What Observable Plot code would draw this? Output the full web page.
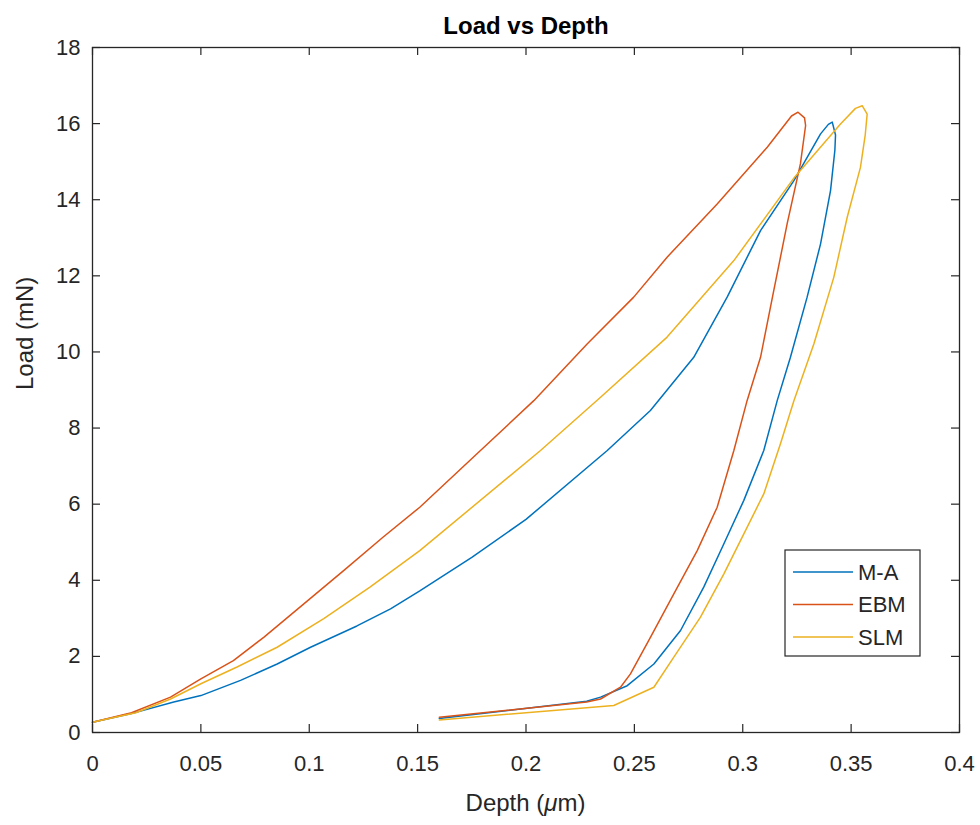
<!DOCTYPE html>
<html><head><meta charset="utf-8">
<script src="https://cdn.jsdelivr.net/npm/d3@7"></script>
<script src="https://cdn.jsdelivr.net/npm/@observablehq/plot@0.6"></script>
<style>
body{margin:0;background:#fff}
svg{font-family:"Liberation Sans",Arial,Helvetica,sans-serif}
</style>
</head><body><div id="chart"></div>
<script>
const seriesNames = ["M-A", "EBM", "SLM"];
const seriesColors = ["#0072BD", "#D95319", "#EDB120"];

const maDepth = [0, 0.0175, 0.0375, 0.05, 0.0683, 0.0852, 0.1006, 0.122, 0.1375, 0.151, 0.175, 0.2, 0.2375, 0.2574, 0.2774, 0.2928, 0.3082, 0.3236, 0.3359, 0.3395, 0.3413, 0.3428, 0.3425, 0.3405, 0.3359, 0.3297, 0.322, 0.3159, 0.3097, 0.3005, 0.2913, 0.282, 0.2713, 0.259, 0.2467, 0.2344, 0.228, 0.16];
const maLoad  = [0.27, 0.49, 0.80, 0.97, 1.37, 1.80, 2.24, 2.80, 3.25, 3.72, 4.6, 5.6, 7.41, 8.46, 9.86, 11.44, 13.19, 14.50, 15.73, 15.98, 16.04, 15.70, 15.3, 14.24, 12.84, 11.44, 9.86, 8.72, 7.41, 6.10, 4.96, 3.82, 2.68, 1.80, 1.23, 0.93, 0.82, 0.37];

const ebmDepth = [0, 0.018, 0.036, 0.05, 0.065, 0.079, 0.0975, 0.116, 0.134, 0.151, 0.179, 0.2036, 0.2282, 0.2497, 0.2651, 0.2882, 0.3113, 0.3225, 0.3255, 0.3285, 0.329, 0.3266, 0.3205, 0.3143, 0.3082, 0.302, 0.2959, 0.2882, 0.279, 0.2682, 0.2574, 0.2482, 0.2436, 0.2344, 0.228, 0.16];
const ebmLoad  = [0.27, 0.52, 0.93, 1.41, 1.89, 2.50, 3.38, 4.26, 5.13, 5.92, 7.41, 8.72, 10.21, 11.44, 12.49, 13.89, 15.38, 16.20, 16.30, 16.15, 15.95, 14.94, 13.37, 11.61, 9.86, 8.72, 7.41, 5.92, 4.78, 3.64, 2.50, 1.54, 1.19, 0.88, 0.80, 0.40];

const slmDepth = [0, 0.02, 0.036, 0.05, 0.0667, 0.0852, 0.1067, 0.128, 0.151, 0.2067, 0.2344, 0.2651, 0.2959, 0.324, 0.3451, 0.352, 0.3551, 0.3574, 0.3565, 0.3543, 0.3482, 0.342, 0.3328, 0.3236, 0.3174, 0.3097, 0.3005, 0.2913, 0.2805, 0.2682, 0.259, 0.2405, 0.16];
const slmLoad  = [0.27, 0.52, 0.88, 1.28, 1.72, 2.24, 2.99, 3.82, 4.78, 7.41, 8.81, 10.39, 12.4, 14.6, 15.99, 16.40, 16.47, 16.25, 15.7, 14.85, 13.54, 11.96, 10.21, 8.72, 7.59, 6.27, 5.22, 4.17, 3.03, 1.98, 1.19, 0.71, 0.33];

const xTicks = [0, 0.05, 0.1, 0.15, 0.2, 0.25, 0.3, 0.35, 0.4];
const xTickLabels = ["0", "0.05", "0.1", "0.15", "0.2", "0.25", "0.3", "0.35", "0.4"];
const yTicks = [0, 2, 4, 6, 8, 10, 12, 14, 16, 18];
const yTickLabels = ["0", "2", "4", "6", "8", "10", "12", "14", "16", "18"];

const titleText = "Load vs Depth";
const yLabelText = "Load (mN)";

const rows = [];
[[maDepth, maLoad], [ebmDepth, ebmLoad], [slmDepth, slmLoad]].forEach(([xs, ys], k) => {
  xs.forEach((x, i) => rows.push({series: seriesNames[k], depth: x, load: ys[i]}));
});

const W = 980, H = 825, ML = 92, MR = 21, MT = 47, MB = 93;
const PW = W - ML - MR, PH = H - MT - MB;
const ink = "#262626";
const TL = 8;

const plot = Plot.plot({
  width: W, height: H,
  marginLeft: ML, marginRight: MR, marginTop: MT, marginBottom: MB,
  style: {fontFamily: '"Liberation Sans", Arial, sans-serif', fontSize: "22px", color: ink, background: "#fff"},
  x: {domain: [0, 0.4]},
  y: {domain: [0, 18]},
  color: {domain: seriesNames, range: seriesColors},
  marks: [
    Plot.line(rows, {x: "depth", y: "load", z: "series", stroke: "series", strokeWidth: 1.5, curve: "linear", strokeLinejoin: "round"}),
    Plot.frame({stroke: ink, strokeWidth: 1.3}),
    Plot.tickX(xTicks, {x: d => d, stroke: ink, strokeWidth: 1.2, insetTop: PH - TL}),
    Plot.tickX(xTicks, {x: d => d, stroke: ink, strokeWidth: 1.2, insetBottom: PH - TL}),
    Plot.tickY(yTicks, {y: d => d, stroke: ink, strokeWidth: 1.2, insetRight: PW - TL}),
    Plot.tickY(yTicks, {y: d => d, stroke: ink, strokeWidth: 1.2, insetLeft: PW - TL}),
    Plot.axisX(xTicks, {tickSize: 0, tickPadding: 23, fontSize: 22, fill: ink, label: null,
      tickFormat: d => xTickLabels[xTicks.indexOf(d)]}),
    Plot.axisY(yTicks, {tickSize: 0, tickPadding: 12, fontSize: 22, fill: ink, label: null,
      tickFormat: d => yTickLabels[yTicks.indexOf(d)]}),
    Plot.text([titleText], {frameAnchor: "top", lineAnchor: "bottom", dy: -14, fontSize: 24, fontWeight: "bold", fill: "#000"}),
    Plot.text([yLabelText], {frameAnchor: "left", rotate: -90, dx: -67, fontSize: 24, fill: ink})
  ]
});

const svg = d3.select(plot);
// x-axis label with italic mu
const xl = svg.append("text")
  .attr("x", ML + PW / 2).attr("y", H - MB + 79)
  .attr("text-anchor", "middle").attr("font-size", 24).attr("fill", ink);
xl.append("tspan").text("Depth (");
xl.append("tspan").attr("font-style", "italic").text("\u03BC");
xl.append("tspan").text("m)");

// legend
const lgRight = ML + PW - 39, lgBottom = MT + PH - 76;
const lgW = 135, lgH = 106;
const lg = svg.append("g").attr("text-anchor", "start");
lg.append("rect").attr("x", lgRight - lgW).attr("y", lgBottom - lgH)
  .attr("width", lgW).attr("height", lgH).attr("fill", "#fff").attr("stroke", ink).attr("stroke-width", 1.2);
seriesNames.forEach((name, i) => {
  const yy = lgBottom - lgH + 22 + i * 32.5;
  lg.append("line").attr("x1", lgRight - lgW + 8).attr("x2", lgRight - lgW + 68)
    .attr("y1", yy).attr("y2", yy).attr("stroke", seriesColors[i]).attr("stroke-width", 1.5);
  lg.append("text").attr("x", lgRight - lgW + 73).attr("y", yy).attr("dy", "0.36em")
    .attr("text-anchor", "start").attr("font-size", 22).attr("fill", ink).text(name);
});

document.getElementById("chart").appendChild(plot);
</script>
</body></html>
